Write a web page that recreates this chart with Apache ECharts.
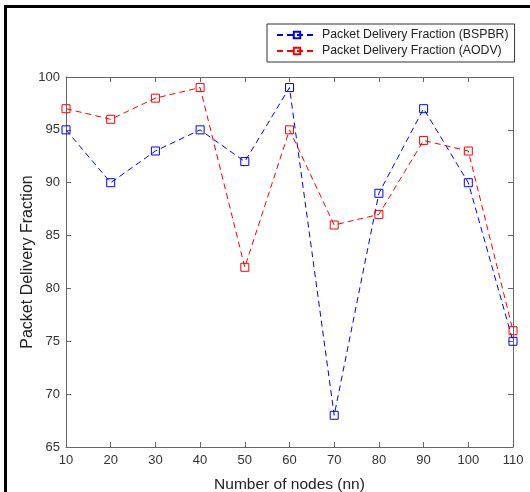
<!DOCTYPE html>
<html>
<head>
<meta charset="utf-8">
<script src="https://cdn.jsdelivr.net/npm/echarts@6/dist/echarts.min.js"></script>
<style>
  body { margin: 0; background: #fff; }
  #wrap { position: relative; width: 530px; height: 492px; }
  #chart { position: absolute; left: 0; top: 0; width: 530px; height: 492px; }
  #frame { position: absolute; left: 4px; top: 5px; width: 526px; height: 487px;
           border-top: 3px solid #000; border-left: 3px solid #000; box-sizing: border-box; pointer-events: none; }
</style>
</head>
<body>
<div id="wrap">
  <div id="chart"></div>
  <div id="frame"></div>
</div>
<script>
// 节点数（横轴）
let nodes = [10, 20, 30, 40, 50, 60, 70, 80, 90, 100, 110];
// 两条曲线的数据
let bspbr = [95, 90, 93, 95, 92, 99, 68, 89, 97, 90, 75];
let aodv = [97, 96, 98, 99, 82, 95, 86, 87, 94, 93, 76];
let names = ['Packet Delivery Fraction (BSPBR)', 'Packet Delivery Fraction (AODV)'];

function pairs(ys) {
	return nodes.map(function(x, i) { return [x, ys[i]]; });
}

let axisGray = '#666';
let font = 'Liberation Sans, Arial, sans-serif';

function makeSeries(name, ys, color) {
	return {
		name: name,
		type: 'line',
		data: pairs(ys),
		symbol: 'rect',
		symbolSize: 8,
		showAllSymbol: true,
		lineStyle: { color: color, width: 1, type: [6, 4] },
		itemStyle: { color: 'rgba(255,255,255,0)', borderColor: color, borderWidth: 1 },
		emphasis: { disabled: true },
		animation: false
	};
}

let myChart = echarts.init(document.getElementById('chart'));
let option = {
	backgroundColor: '#fff',
	textStyle: { fontFamily: font },
	grid: { left: 66, top: 77, width: 447, height: 370, containLabel: false, outerBoundsMode: 'none' },
	legend: {
		data: names,
		orient: 'vertical',
		left: 267,
		top: 24,
		width: 246,
		padding: [5, 6, 5, 9],
		itemGap: 4,
		itemWidth: 40,
		itemHeight: 8,
		borderColor: '#333',
		borderWidth: 1,
		backgroundColor: '#fff',
		textStyle: { fontSize: 12.3, color: '#222', fontFamily: font }
	},
	xAxis: [{
		type: 'value',
		min: 10, max: 110, interval: 10,
		name: 'Number of nodes (nn)',
		nameLocation: 'middle',
		nameGap: 30,
		nameMoveOverlap: false,
		nameTextStyle: { fontSize: 15.5, color: '#222' },
		axisLine: { show: true, lineStyle: { color: axisGray } },
		axisTick: { show: true, inside: true, length: 5, lineStyle: { color: axisGray } },
		axisLabel: { fontSize: 13, color: '#333', margin: 7 },
		splitLine: { show: false }
	}, {
		type: 'value', position: 'top',
		min: 10, max: 110, interval: 10,
		axisLine: { show: true, lineStyle: { color: axisGray } },
		axisTick: { show: true, inside: true, length: 5, lineStyle: { color: axisGray } },
		axisLabel: { show: false },
		splitLine: { show: false }
	}],
	yAxis: [{
		type: 'value',
		min: 65, max: 100, interval: 5,
		name: 'Packet Delivery Fraction',
		nameLocation: 'middle',
		nameGap: 30,
		nameMoveOverlap: false,
		nameTextStyle: { fontSize: 16, color: '#222' },
		axisLine: { show: true, lineStyle: { color: axisGray } },
		axisTick: { show: true, inside: true, length: 5, lineStyle: { color: axisGray } },
		axisLabel: { fontSize: 13, color: '#333', margin: 6 },
		splitLine: { show: false }
	}, {
		type: 'value', position: 'right',
		min: 65, max: 100, interval: 5,
		axisLine: { show: true, lineStyle: { color: axisGray } },
		axisTick: { show: true, inside: true, length: 5, lineStyle: { color: axisGray } },
		axisLabel: { show: false },
		splitLine: { show: false }
	}],
	series: [
		makeSeries(names[0], bspbr, '#0000ff'),
		makeSeries(names[1], aodv, '#ff0000')
	]
};
myChart.setOption(option);
</script>
</body>
</html>
